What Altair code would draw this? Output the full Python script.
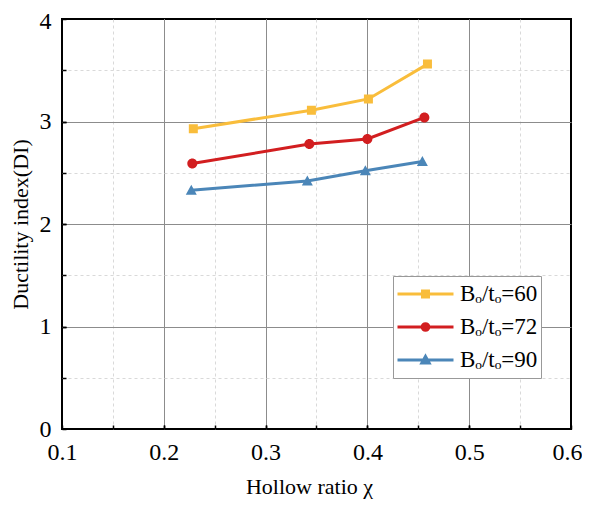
import altair as alt
import pandas as pd

# ---- data ----
series_names = ["Bₒ/tₒ=60", "Bₒ/tₒ=72", "Bₒ/tₒ=90"]
line_keys = ["60", "72", "90"]
x_60 = [0.229, 0.345, 0.401, 0.459]
y_60 = [2.93, 3.11, 3.22, 3.56]
x_72 = [0.228, 0.343, 0.400, 0.456]
y_72 = [2.59, 2.78, 2.83, 3.04]
x_90 = [0.227, 0.341, 0.398, 0.454]
y_90 = [2.33, 2.42, 2.52, 2.61]

x_major = [0.1, 0.2, 0.3, 0.4, 0.5, 0.6]
x_minor = [0.15, 0.2, 0.25, 0.3, 0.35, 0.4, 0.45, 0.5, 0.55]
y_major = [0, 1, 2, 3, 4]
y_minor = [0.5, 1, 1.5, 2, 2.5, 3, 3.5]

colors = ["#F9BD3B", "#D21E20", "#4B86B8"]
# marker paths: a horizontal stroke (only visible in the legend, where it is stroked) + a filled marker
shape_paths = [
    "M-1,0H1M-0.107,-0.107H0.107V0.107H-0.107Z",
    "M-1,0H1M-0.119,0A0.119,0.119 0 1,0 0.119,0A0.119,0.119 0 1,0 -0.119,0Z",
    "M-1,0H1M0,-0.13L0.131,0.11L-0.131,0.11Z",
]

rows = []
for name, key, xs, ys in zip(series_names, line_keys, [x_60, x_72, x_90], [y_60, y_72, y_90]):
    for xv, yv in zip(xs, ys):
        rows.append({"series": name, "key": key, "x": xv, "y": yv})
df = pd.DataFrame(rows)

W, H = 509, 410
FONT = "'Liberation Serif', 'DejaVu Serif', serif"

xscale = alt.Scale(domain=[0.1, 0.6], nice=False, zero=False)
yscale = alt.Scale(domain=[0, 4], nice=False, zero=False)
cscale = alt.Scale(domain=series_names, range=colors)
lscale = alt.Scale(domain=line_keys, range=colors)
sscale = alt.Scale(domain=series_names, range=shape_paths)

edge_x = {"condition": {"test": "datum.value <= 0.1 || datum.value >= 0.6", "value": 0}, "value": 1}
edge_y = {"condition": {"test": "datum.value <= 0 || datum.value >= 4", "value": 0}, "value": 1}
last_x_shift = {"condition": {"test": "datum.value >= 0.6", "value": -4}, "value": 0}
top_y_shift = {"condition": {"test": "datum.value >= 4", "value": 2}, "value": 0}

lines = alt.Chart(df).mark_line(strokeWidth=3).encode(
    x=alt.X("x:Q", scale=xscale, axis=alt.Axis(
        orient="bottom", offset=-4, values=x_minor, labels=False, domain=False,
        ticks=True, tickSize=4, tickWidth=1.5, tickColor="black",
        grid=True, gridColor="#d9d9d9", gridDash=[3, 3], gridWidth=1, title=None)),
    y=alt.Y("y:Q", scale=yscale, axis=alt.Axis(
        orient="left", offset=-4, values=y_minor, labels=False, domain=False,
        ticks=True, tickSize=4, tickWidth=1.5, tickColor="black",
        grid=True, gridColor="#d9d9d9", gridDash=[3, 3], gridWidth=1, title=None)),
    color=alt.Color("key:N", scale=lscale, legend=None),
)

legend = alt.Legend(
    title=None, orient="none", legendX=331, legendY=257,
    symbolSize=3136, symbolStrokeWidth=3,
    labelFont=FONT, labelFontSize=23, labelColor="black",
    padding=3, strokeColor="#999999", fillColor="white",
    clipHeight=30, rowPadding=3, labelOffset=5, symbolOffset=0,
)

points = alt.Chart(df).mark_point(filled=True, size=7056, strokeWidth=0, opacity=1).encode(
    x=alt.X("x:Q", scale=xscale, axis=alt.Axis(
        orient="bottom", offset=-4, values=x_major, format=".1f", domain=False,
        ticks=True, tickSize=4, tickWidth=1.5, tickColor="black",
        grid=True, gridColor="#8c8c8c", gridWidth=1, gridOpacity=edge_x,
        labelFont=FONT, labelFontSize=24, labelColor="black", labelPadding=11,
        labelFlush=False, labelOverlap=False, labelOffset=last_x_shift,
        title="Hollow ratio χ", titleFont=FONT, titleFontSize=22, titleX=247,
        titleFontWeight="normal", titleColor="black", titlePadding=12)),
    y=alt.Y("y:Q", scale=yscale, axis=alt.Axis(
        orient="left", offset=-4, values=y_major, format="d", domain=False,
        ticks=True, tickSize=4, tickWidth=1.5, tickColor="black",
        grid=True, gridColor="#8c8c8c", gridWidth=1, gridOpacity=edge_y,
        labelFont=FONT, labelFontSize=24, labelColor="black", labelPadding=11,
        labelFlush=False, labelOverlap=False, labelOffset=top_y_shift,
        title="Ductility index(DI)", titleFont=FONT, titleFontSize=22,
        titleFontWeight="normal", titleColor="black", titlePadding=7)),
    fill=alt.Fill("series:N", scale=cscale, legend=legend),
    stroke=alt.Stroke("series:N", scale=cscale, legend=legend),
    shape=alt.Shape("series:N", scale=sscale, legend=legend),
)

chart = alt.layer(lines, points).resolve_axis(
    x="independent", y="independent"
).properties(
    width=W, height=H,
    autosize=alt.AutoSizeParams(type="none"),
    padding={"left": 54, "top": 11, "right": 11, "bottom": 72},
    background="white",
).configure_view(stroke="black", strokeWidth=2)

chart.save("out.html", embed_options={"renderer": "svg", "actions": False})
